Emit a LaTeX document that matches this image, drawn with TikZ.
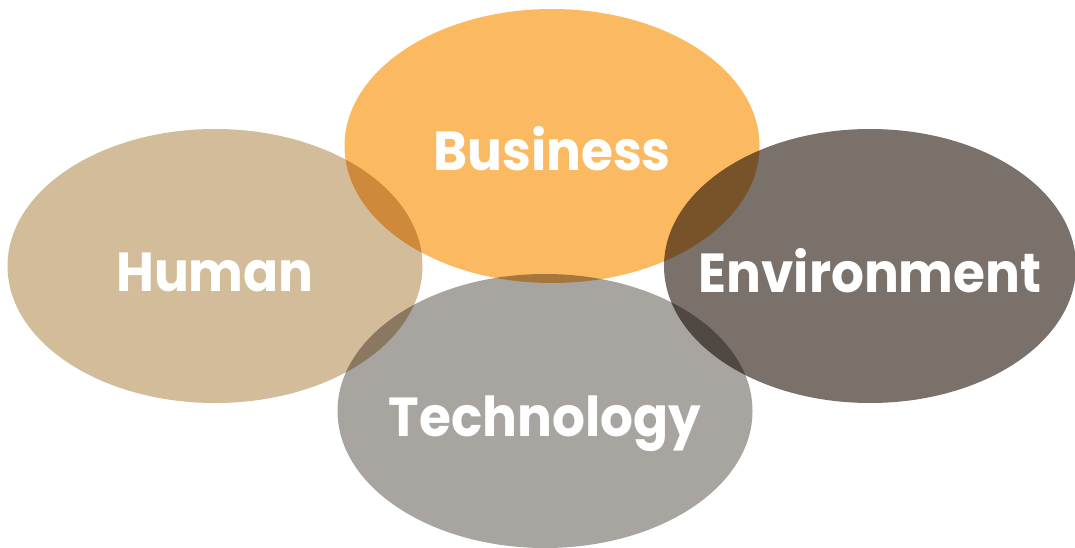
\documentclass[tikz,border=0pt]{standalone}
\usepackage{fontspec}
\setmainfont{Poppins}[FakeStretch=0.94]
\usetikzlibrary{shapes.geometric, positioning}
\definecolor{humantan}{RGB}{210, 188, 153}
\definecolor{bizorange}{RGB}{251, 186, 97}
\definecolor{envgray}{RGB}{122, 113, 107}
\definecolor{techgray}{RGB}{168, 164, 160}

\begin{document}
\begin{tikzpicture}[
    x=1pt, y=-1pt,
    blob/.style={ellipse, minimum width=415pt, minimum height=274pt, inner sep=0pt},
    tag/.style={text=white, font=\bfseries\fontsize{55}{55}\selectfont, anchor=base}
]
\useasboundingbox (0,0) rectangle (1075,548);

% Ellipses, multiplied where they overlap
\begin{scope}[blend group=multiply]
\node[blob, fill=humantan] (human) at (215,266) {};
\node[blob, fill=bizorange] (business) at (552,146) {};
\node[blob, fill=envgray, minimum width=412pt] (environment) at (870,266) {};
\node[blob, fill=techgray] (technology) at (545,411) {};
\end{scope}

% Labels
\node[tag] at ([yshift=-25pt]human.center) {Human};
\node[tag] at ([yshift=-25pt]business.center) {Business};
\node[tag] at ([yshift=-26pt]environment.center) {Environment};
\node[tag] at ([yshift=-25pt]technology.center) {Technology};

\end{tikzpicture}
\end{document}
